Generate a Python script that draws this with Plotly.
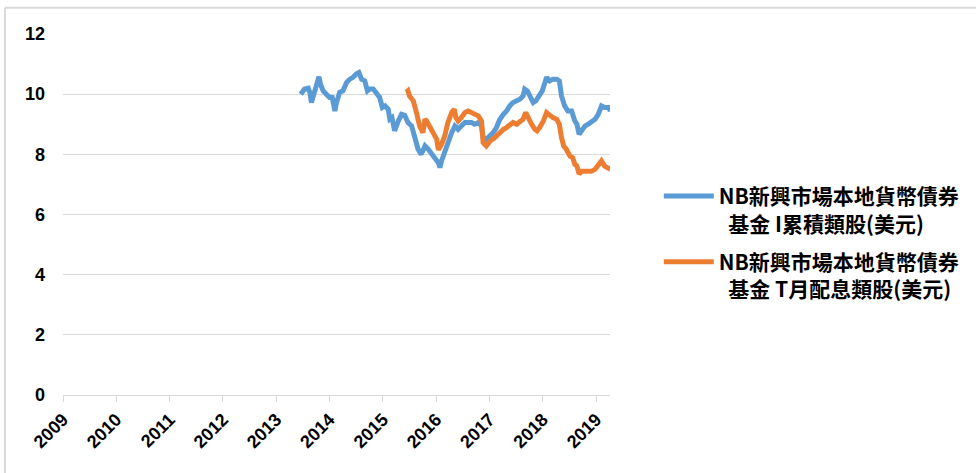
import plotly.graph_objects as go

# ---- data (decimal year, NAV) ----
blue_x = [2013.46, 2013.53, 2013.60, 2013.63, 2013.66, 2013.69, 2013.74, 2013.80, 2013.83, 2013.88,
          2013.94, 2014.00, 2014.05, 2014.10, 2014.13, 2014.19, 2014.25, 2014.32, 2014.38, 2014.44,
          2014.50, 2014.55, 2014.60, 2014.66, 2014.71, 2014.75, 2014.82, 2014.88, 2014.94, 2014.99,
          2015.04, 2015.10, 2015.13, 2015.17, 2015.22, 2015.29, 2015.35, 2015.41, 2015.47, 2015.54,
          2015.60, 2015.66, 2015.72, 2015.79, 2015.85, 2015.91, 2015.97, 2016.04, 2016.07, 2016.10,
          2016.16, 2016.22, 2016.29, 2016.35, 2016.41, 2016.47, 2016.54, 2016.60, 2016.66, 2016.72,
          2016.79, 2016.85, 2016.88, 2016.94, 2017.01, 2017.07, 2017.13, 2017.19, 2017.26, 2017.32,
          2017.38, 2017.44, 2017.51, 2017.57, 2017.63, 2017.66, 2017.71, 2017.76, 2017.82, 2017.87,
          2017.93, 2017.99, 2018.04, 2018.07, 2018.13, 2018.19, 2018.26, 2018.31, 2018.35, 2018.41,
          2018.47, 2018.54, 2018.60, 2018.64, 2018.68, 2018.73, 2018.79, 2018.85, 2018.91, 2018.98,
          2019.04, 2019.10, 2019.16, 2019.23, 2019.27]
blue_y = [10.00, 10.17, 10.20, 10.06, 9.72, 9.89, 10.28, 10.58, 10.33, 10.11,
          10.00, 9.89, 9.89, 9.44, 9.72, 10.06, 10.11, 10.39, 10.50, 10.56,
          10.67, 10.72, 10.50, 10.44, 10.11, 10.17, 10.17, 10.00, 9.89, 9.56,
          9.61, 9.50, 9.17, 9.22, 8.78, 9.11, 9.33, 9.30, 9.06, 8.94,
          8.61, 8.17, 8.00, 8.28, 8.17, 8.00, 7.89, 7.72, 7.56, 7.78,
          8.11, 8.44, 8.72, 8.94, 8.83, 8.94, 9.06, 9.06, 9.06, 9.00,
          9.06, 8.94, 8.56, 8.50, 8.61, 8.72, 8.89, 9.15, 9.33, 9.44,
          9.61, 9.72, 9.78, 9.83, 9.94, 10.17, 10.11, 9.89, 9.72, 9.78,
          9.94, 10.11, 10.39, 10.56, 10.44, 10.50, 10.50, 10.44, 9.94, 9.61,
          9.44, 9.44, 9.11, 9.00, 8.67, 8.83, 8.94, 9.00, 9.06, 9.17,
          9.33, 9.61, 9.56, 9.56, 9.44]

orange_x = [2015.44, 2015.47, 2015.50, 2015.57, 2015.63, 2015.69, 2015.75, 2015.79, 2015.82, 2015.88,
            2015.94, 2016.01, 2016.04, 2016.07, 2016.10, 2016.16, 2016.22, 2016.29, 2016.34, 2016.37,
            2016.41, 2016.47, 2016.54, 2016.60, 2016.66, 2016.72, 2016.79, 2016.85, 2016.88, 2016.94,
            2017.01, 2017.10, 2017.19, 2017.26, 2017.32, 2017.38, 2017.44, 2017.51, 2017.57, 2017.63,
            2017.68, 2017.72, 2017.79, 2017.85, 2017.89, 2017.94, 2018.01, 2018.07, 2018.13, 2018.19,
            2018.26, 2018.31, 2018.35, 2018.39, 2018.44, 2018.51, 2018.56, 2018.60, 2018.64, 2018.68,
            2018.73, 2018.79, 2018.85, 2018.91, 2018.98, 2019.04, 2019.10, 2019.16, 2019.23, 2019.27]
orange_y = [10.06, 10.11, 9.94, 9.78, 9.39, 8.94, 8.72, 9.17, 9.11, 8.89,
            8.72, 8.50, 8.15, 8.22, 8.33, 8.61, 9.06, 9.39, 9.50, 9.22,
            9.11, 9.22, 9.39, 9.44, 9.39, 9.33, 9.28, 9.11, 8.39, 8.28,
            8.44, 8.56, 8.72, 8.83, 8.89, 9.00, 9.06, 9.00, 9.11, 9.17,
            9.39, 9.22, 9.00, 8.83, 8.78, 8.89, 9.11, 9.39, 9.28, 9.22,
            9.17, 9.00, 8.56, 8.28, 8.17, 7.94, 7.89, 7.67, 7.61, 7.35,
            7.44, 7.44, 7.47, 7.44, 7.50, 7.67, 7.78, 7.61, 7.56, 7.50]

year_ticks = [2009, 2010, 2011, 2012, 2013, 2014, 2015, 2016, 2017, 2018, 2019]
year_labels = [str(y) for y in year_ticks]
y_ticks = [0, 2, 4, 6, 8, 10, 12]

name_blue = "NB新興市場本地貨幣債券<br>\u00a0\u00a0基金 I累積類股(美元)"
name_orange = "NB新興市場本地貨幣債券<br>\u00a0\u00a0基金 T月配息類股(美元)"

BLUE = "#5b9bd5"
ORANGE = "#ed7d31"
GRID = "#d9d9d9"
tick_font = dict(family="Liberation Sans, Arial, sans-serif", size=18, color="#000000", weight="bold")

fig = go.Figure()
fig.add_trace(go.Scatter(x=blue_x, y=blue_y, mode="lines", name=name_blue,
                         line=dict(color=BLUE, width=5), legendgroup="a"))
fig.add_trace(go.Scatter(x=orange_x, y=orange_y, mode="lines", name=name_orange,
                         line=dict(color=ORANGE, width=5), legendgroup="b"))

fig.update_layout(
    width=976, height=473,
    margin=dict(l=63, r=366, t=34, b=78, autoexpand=False),
    paper_bgcolor="white", plot_bgcolor="white",
    showlegend=True,
    legend=dict(xref="container", yref="container", x=0.675, y=0.628,
                xanchor="left", yanchor="top", valign="top",
                itemwidth=50,
                font=dict(family="Noto Sans CJK TC, sans-serif", size=21, color="#000000", weight="bold"),
                tracegroupgap=8, bgcolor="rgba(0,0,0,0)"),
    xaxis=dict(range=[2009, 2019.26], tickmode="array", tickvals=year_ticks, ticktext=year_labels,
               tickangle=-45, showgrid=False, zeroline=False, showline=True, linecolor=GRID, linewidth=1,
               ticks="outside", ticklen=6, tickcolor=GRID, tickwidth=1, tickfont=tick_font),
    yaxis=dict(range=[0, 12], tickmode="array", tickvals=y_ticks, showgrid=True, gridcolor=GRID,
               gridwidth=1, zeroline=False, showline=False, ticks="", tickfont=tick_font,
               ticklabelstandoff=17),
    shapes=[
        dict(type="line", xref="paper", yref="paper", x0=-0.106, x1=1.7, y0=1.073, y1=1.073,
             line=dict(color=GRID, width=2)),
        dict(type="line", xref="paper", yref="paper", x0=-0.106, x1=-0.106, y0=-0.3, y1=1.073,
             line=dict(color=GRID, width=2)),
    ],
)

fig.write_html("out.html", config={"displayModeBar": False},
               post_script="document.body.style.margin='0';")
